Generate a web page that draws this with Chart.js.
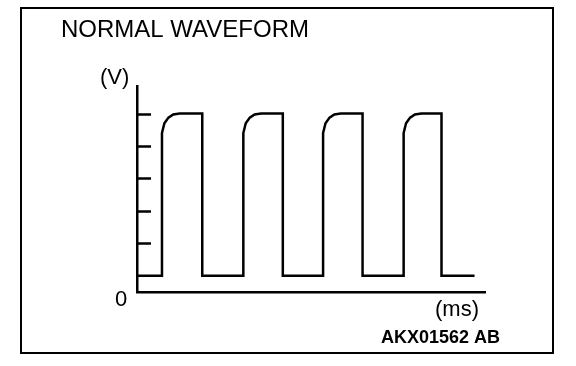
<!DOCTYPE html>
<html>
<head>
<meta charset="utf-8">
<script src="https://cdn.jsdelivr.net/npm/chart.js@4/dist/chart.umd.min.js"></script>
<style>
  html, body { margin: 0; padding: 0; background: #fff; }
  #wrap { width: 576px; height: 366px; }
</style>
</head>
<body>
<div id="wrap"><canvas id="chart" width="576" height="366"></canvas></div>
<script>
// time axis (ms, arbitrary units)
const timeMs = [
  0, 3.1, 3.1, 3.4, 3.9, 4.5, 5.3, 8.1, 8.1,
  13.2, 13.2, 13.5, 14.0, 14.6, 15.4, 18.1, 18.1,
  23.1, 23.1, 23.4, 23.9, 24.5, 25.3, 28.0, 28.0,
  33.1, 33.1, 33.4, 33.9, 34.5, 35.3, 37.8, 37.8, 41.9
];
// voltage (V, arbitrary units)
const volts = [
  1, 1, 9.8, 10.4, 10.75, 10.95, 11, 11, 1,
  1, 9.8, 10.4, 10.75, 10.95, 11, 11, 1,
  1, 9.8, 10.4, 10.75, 10.95, 11, 11, 1,
  1, 9.8, 10.4, 10.75, 10.95, 11, 11, 1, 1
];
// unlabelled tick marks on the voltage axis
const voltTicks = [3, 5, 7, 9, 11];

const titleText = "NORMAL WAVEFORM";
const yUnit = "(V)";
const xUnit = "(ms)";
const originLabel = "0";
const figureCode = "AKX01562 AB";

const points = timeMs.map((t, i) => ({ x: t, y: volts[i] }));

// frame, tick marks and all the labels
const decorations = {
  id: "decorations",
  beforeDraw(chart) {
    const ctx = chart.ctx;
    ctx.save();
    ctx.fillStyle = "#fff";
    ctx.fillRect(0, 0, chart.width, chart.height);
    ctx.restore();
  },
  afterDraw(chart) {
    const ctx = chart.ctx;
    const { left } = chart.chartArea;
    const y = chart.scales.y;
    ctx.save();
    ctx.strokeStyle = "#000";

    // outer frame
    ctx.lineWidth = 2;
    ctx.strokeRect(21, 8, 532, 345);

    // short tick marks inside the axis
    ctx.lineWidth = 2.5;
    voltTicks.forEach((v) => {
      const py = Math.round(y.getPixelForValue(v)) + 0.5;
      ctx.beginPath();
      ctx.moveTo(left, py);
      ctx.lineTo(left + 14, py);
      ctx.stroke();
    });

    ctx.fillStyle = "#000";
    ctx.textBaseline = "alphabetic";
    ctx.textAlign = "left";
    ctx.font = "24px 'Liberation Sans', Arial, sans-serif";
    ctx.fillText(titleText, 61, 37);

    ctx.font = "22px 'Liberation Sans', Arial, sans-serif";
    ctx.fillText(yUnit, 100, 84);
    ctx.fillText(originLabel, 115, 306);
    ctx.fillText(xUnit, 435, 316);

    ctx.font = "bold 18px 'Liberation Sans', Arial, sans-serif";
    ctx.fillText(figureCode, 381, 343);
    ctx.restore();
  }
};

new Chart(document.getElementById("chart").getContext("2d"), {
  type: "line",
  data: {
    datasets: [{
      data: points,
      borderColor: "#000",
      borderWidth: 2.5,
      pointRadius: 0,
      tension: 0,
      fill: false
    }]
  },
  options: {
    responsive: false,
    animation: false,
    events: [],
    layout: { padding: { left: 137, right: 91, top: 86, bottom: 74 } },
    plugins: {
      legend: { display: false },
      title: { display: false },
      tooltip: { enabled: false }
    },
    scales: {
      x: {
        type: "linear",
        min: 0,
        max: 43.2,
        ticks: { display: false },
        grid: { display: false, drawTicks: false },
        border: { display: true, color: "#000", width: 2.5 }
      },
      y: {
        type: "linear",
        min: 0,
        max: 12.7,
        ticks: { display: false },
        grid: { display: false, drawTicks: false },
        border: { display: true, color: "#000", width: 2.5 }
      }
    }
  },
  plugins: [decorations]
});
</script>
</body>
</html>
